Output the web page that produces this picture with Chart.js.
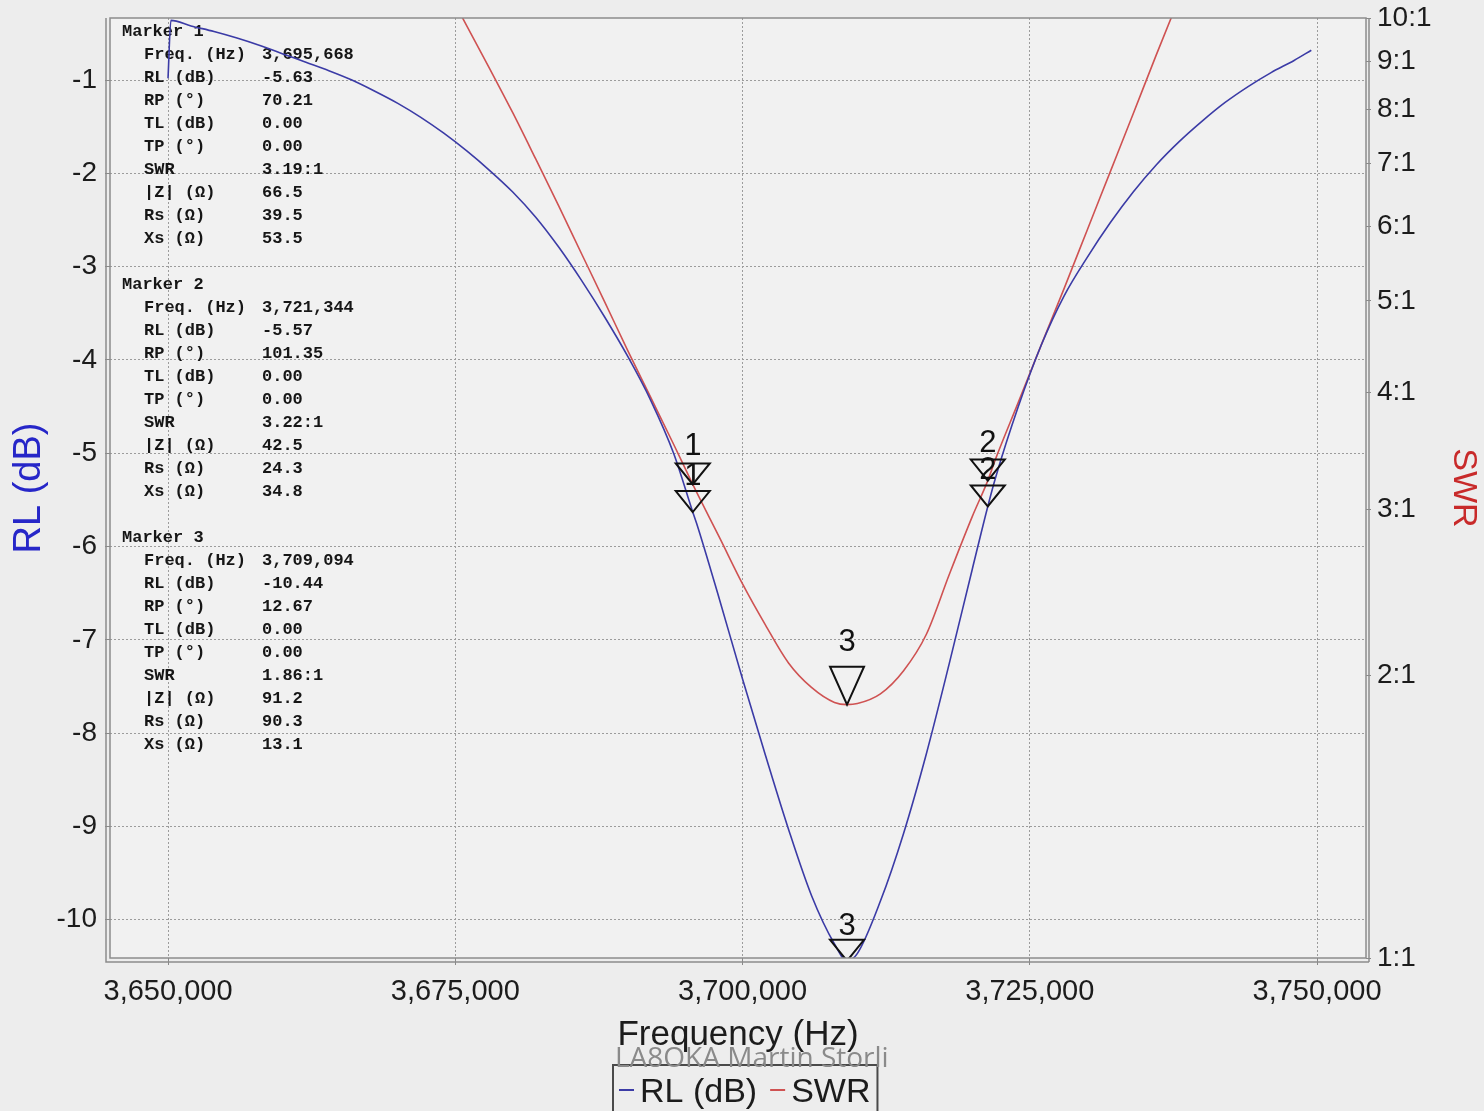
<!DOCTYPE html>
<html>
<head>
<meta charset="utf-8">
<title>RL (dB) / SWR</title>
<script src="https://cdn.jsdelivr.net/npm/chart.js@4.4.1/dist/chart.umd.min.js"></script>
<style>
  html, body { margin: 0; padding: 0; background: #ededed; }
  #wrap { width: 1484px; height: 1111px; position: relative; overflow: hidden; }
  canvas { display: block; }
</style>
</head>
<body>
<div id="wrap"><canvas id="sweep" width="1484" height="1111"></canvas></div>
<script>
// ---- Sweep data -------------------------------------------------------
// Return loss sweep (Hz, dB)
const rlFreqs = [
  3650000, 3650250, 3652000, 3654000, 3656000, 3658000, 3660000, 3662000, 3664000, 3666000,
  3668000, 3670000, 3672000, 3674000, 3676000, 3678000, 3680000, 3682000, 3684000, 3686000,
  3688000, 3690000, 3692000, 3694000, 3696000, 3698000, 3700000, 3702000, 3704000, 3706000,
  3708000, 3710000, 3712000, 3714000, 3716000, 3718000, 3720000, 3722000, 3724000, 3726000,
  3728000, 3730000, 3732000, 3734000, 3736000, 3738000, 3740000, 3742000, 3744000, 3746000,
  3748000, 3749500
];
const rlValues = [
  -0.98, -0.36, -0.42, -0.48, -0.55, -0.63, -0.72, -0.81, -0.90, -1.00,
  -1.12, -1.25, -1.40, -1.57, -1.76, -1.97, -2.20, -2.47, -2.79, -3.15,
  -3.54, -3.96, -4.43, -5.00, -5.75, -6.57, -7.42, -8.24, -9.03, -9.74,
  -10.26, -10.36, -9.80, -9.08, -8.22, -7.25, -6.24, -5.27, -4.50, -3.84,
  -3.31, -2.90, -2.53, -2.20, -1.91, -1.66, -1.44, -1.24, -1.07, -0.92,
  -0.79, -0.68
];

// SWR sweep (Hz, ratio : 1)
const swrFreqs = [
  3674000, 3676000, 3678000, 3680000, 3682000, 3684000, 3686000, 3688000, 3690000, 3692000,
  3694000, 3696000, 3698000, 3700000, 3702000, 3704000, 3706000, 3708000, 3710000, 3712000,
  3714000, 3716000, 3718000, 3720000, 3722000, 3724000, 3726000, 3728000, 3730000, 3732000,
  3734000, 3736000, 3738000
];
const swrValues = [
  10.9, 9.81, 8.83, 7.93, 7.08, 6.31, 5.61, 4.99, 4.43, 3.95,
  3.52, 3.13, 2.80, 2.50, 2.26, 2.06, 1.94, 1.87, 1.865, 1.91,
  2.02, 2.21, 2.56, 2.95, 3.39, 3.90, 4.49, 5.16, 5.95, 6.86,
  7.91, 9.13, 10.5
];

// Markers and their readouts
const markerNames = ['1', '2', '3'];
const markerFreqs = [3695668, 3721344, 3709094];
const markerRL    = [-5.63, -5.57, -10.44];
const markerRP    = [70.21, 101.35, 12.67];
const markerTL    = [0.00, 0.00, 0.00];
const markerTP    = [0.00, 0.00, 0.00];
const markerSWR   = [3.19, 3.22, 1.86];
const markerZ     = [66.5, 42.5, 91.2];
const markerRs    = [39.5, 24.3, 90.3];
const markerXs    = [53.5, 34.8, 13.1];

// Axis ticks
const freqTicks = [3650000, 3675000, 3700000, 3725000, 3750000];
const rlTicks   = [-1, -2, -3, -4, -5, -6, -7, -8, -9, -10];
const swrTicks  = [1, 2, 3, 4, 5, 6, 7, 8, 9, 10];

// ---- Styling ------------------------------------------------------------
const RL_COLOR  = '#3b3ba6';
const SWR_COLOR = '#cf5252';
const TEXT      = '#1c1c1c';
const SANS      = "'Liberation Sans', Arial, sans-serif";
const MONO      = "'Liberation Mono', 'Courier New', monospace";

// triangle geometry for each marker on each trace: [width, height, label gap]
const triRL  = [[34, 21, 6], [34, 21, 6], [34, 21, 5]];
const triSWR = [[34, 21, 8], [34, 21, 8], [34, 38, 16]];

// merge the marker samples into the sweeps so the curves pass through them
function mergeSeries(freqs, values, mFreqs, mValues) {
  const pts = freqs.map((f, i) => ({ x: f, y: values[i] }));
  mFreqs.forEach((f, i) => pts.push({ x: f, y: mValues[i] }));
  return pts.sort((a, b) => a.x - b.x);
}
const rlData  = mergeSeries(rlFreqs, rlValues, markerFreqs, markerRL);
const swrData = mergeSeries(swrFreqs, swrValues, markerFreqs, markerSWR);

const fmtInt = v => Math.round(v).toLocaleString('en-US');

// vertical axes: fixed width, and no extra room reserved for the end labels
const fixVertical = width => s => { s.width = width; s.paddingTop = 0; s.paddingBottom = 0; };

// ---- Plugins --------------------------------------------------------------
const backdrop = {
  id: 'backdrop',
  beforeDraw(chart) {
    const { ctx, chartArea: a } = chart;
    ctx.save();
    ctx.fillStyle = '#ededed';
    ctx.fillRect(0, 0, chart.width, chart.height);
    ctx.fillStyle = '#f1f1f1';
    ctx.fillRect(a.left, a.top, a.right - a.left, a.bottom - a.top);
    ctx.restore();
  }
};

const readout = {
  id: 'readout',
  beforeDatasetsDraw(chart) {
    const { ctx, chartArea: a } = chart;
    const rows = ['Freq. (Hz)', 'RL (dB)', 'RP (°)', 'TL (dB)', 'TP (°)', 'SWR', '|Z| (Ω)', 'Rs (Ω)', 'Xs (Ω)'];
    const lh = 23;
    ctx.save();
    ctx.fillStyle = '#161616';
    ctx.font = 'bold 17px ' + MONO;
    ctx.textBaseline = 'middle';
    ctx.textAlign = 'left';
    let y = a.top + 14;
    markerNames.forEach((name, i) => {
      const vals = [
        fmtInt(markerFreqs[i]),
        markerRL[i].toFixed(2),
        markerRP[i].toFixed(2),
        markerTL[i].toFixed(2),
        markerTP[i].toFixed(2),
        markerSWR[i].toFixed(2) + ':1',
        markerZ[i].toFixed(1),
        markerRs[i].toFixed(1),
        markerXs[i].toFixed(1)
      ];
      ctx.fillText('Marker ' + name, a.left + 12, y);
      y += lh;
      rows.forEach((r, k) => {
        ctx.fillText(r, a.left + 34, y);
        ctx.fillText(vals[k], a.left + 152, y);
        y += lh;
      });
      y += lh;
    });
    ctx.restore();
  }
};

const markers = {
  id: 'markers',
  afterDatasetsDraw(chart) {
    const { ctx, chartArea: a, scales } = chart;
    ctx.save();
    ctx.beginPath();
    ctx.rect(a.left, a.top, a.right - a.left, a.bottom - a.top);
    ctx.clip();
    ctx.strokeStyle = '#111';
    ctx.fillStyle = '#111';
    ctx.lineWidth = 2;
    ctx.font = '31px ' + SANS;
    ctx.textAlign = 'center';
    ctx.textBaseline = 'alphabetic';
    const draw = (px, py, geo, label) => {
      const [w, h, gap] = geo;
      ctx.beginPath();
      ctx.moveTo(px, py);
      ctx.lineTo(px - w / 2, py - h);
      ctx.lineTo(px + w / 2, py - h);
      ctx.closePath();
      ctx.stroke();
      ctx.fillText(label, px, py - h - gap);
    };
    markerNames.forEach((name, i) => {
      const px = scales.x.getPixelForValue(markerFreqs[i]);
      draw(px, scales.y2.getPixelForValue(markerSWR[i]), triSWR[i], name);
      draw(px, scales.y.getPixelForValue(markerRL[i]), triRL[i], name);
    });
    ctx.restore();
  }
};

const frame = {
  id: 'frame',
  afterDraw(chart) {
    const { ctx, chartArea: a } = chart;
    ctx.save();
    ctx.strokeStyle = '#8c8c8c';
    ctx.lineWidth = 1.5;
    ctx.strokeRect(a.left, a.top, a.right - a.left, a.bottom - a.top);
    ctx.beginPath();
    ctx.moveTo(a.left - 4, a.top);
    ctx.lineTo(a.left - 4, a.bottom + 4);
    ctx.lineTo(a.right + 3, a.bottom + 4);
    ctx.moveTo(a.right + 3, a.top);
    ctx.lineTo(a.right + 3, a.bottom + 4);
    ctx.stroke();
    ctx.restore();
  }
};

const footer = {
  id: 'footer',
  afterDraw(chart) {
    const { ctx } = chart;
    ctx.save();
    // legend box
    ctx.font = '34px ' + SANS;
    ctx.textBaseline = 'alphabetic';
    ctx.textAlign = 'left';
    const items = chart.data.datasets.map(d => ({ text: d.label, color: d.borderColor }));
    let x = 619;
    const base = 1102;
    const widths = items.map(it => ctx.measureText(it.text).width);
    const total = widths.reduce((s, w) => s + w + 22, 0) + 12 * (items.length - 1);
    const boxL = 613, boxR = x + total + 6;
    ctx.strokeStyle = '#4a4a4a';
    ctx.lineWidth = 2;
    ctx.strokeRect(boxL, 1065, boxR - boxL, 60);
    items.forEach((it, i) => {
      ctx.strokeStyle = it.color;
      ctx.lineWidth = 2;
      ctx.beginPath();
      ctx.moveTo(x, base - 12);
      ctx.lineTo(x + 15, base - 12);
      ctx.stroke();
      x += 21;
      ctx.fillStyle = TEXT;
      ctx.fillText(it.text, x, base);
      x += widths[i] + 13;
    });
    // author credit
    ctx.font = "28px 'Open Sans', sans-serif";
    ctx.fillStyle = '#8a8a8a';
    ctx.fillText('LA8OKA Martin Storli', 615, 1067);
    ctx.restore();
  }
};

// ---- Chart ----------------------------------------------------------------
const gridColor = '#9c9c9c';

new Chart(document.getElementById('sweep'), {
  type: 'line',
  data: {
    datasets: [
      { label: 'RL (dB)', data: rlData, yAxisID: 'y', borderColor: RL_COLOR, borderWidth: 1.6,
        pointRadius: 0, cubicInterpolationMode: 'monotone', fill: false },
      { label: 'SWR', data: swrData, yAxisID: 'y2', borderColor: SWR_COLOR, borderWidth: 1.6,
        pointRadius: 0, cubicInterpolationMode: 'monotone', fill: false }
    ]
  },
  options: {
    responsive: false,
    animation: false,
    devicePixelRatio: 1,
    layout: { padding: { top: 18, left: 0, right: 0, bottom: 0 } },
    plugins: { legend: { display: false }, tooltip: { enabled: false }, title: { display: false } },
    scales: {
      x: {
        type: 'linear', position: 'bottom', min: 3644950, max: 3754260,
        afterBuildTicks: s => { s.ticks = freqTicks.map(v => ({ value: v })); },
        afterFit: s => { s.height = 153; },
        ticks: { callback: v => fmtInt(v), color: TEXT, font: { family: SANS, size: 29 },
                 padding: 10, maxRotation: 0, autoSkip: false },
        grid: { color: gridColor, lineWidth: 1, drawTicks: true, tickLength: 7, tickColor: '#888' },
        border: { display: false, dash: [2, 2] },
        title: { display: true, text: 'Frequency (Hz)', color: TEXT,
                 font: { family: SANS, size: 35 }, padding: { top: 0, bottom: 55 } }
      },
      y: {
        type: 'linear', position: 'left', min: -10.41, max: -0.335,
        afterBuildTicks: s => { s.ticks = rlTicks.map(v => ({ value: v })); },
        afterFit: fixVertical(110),
        ticks: { callback: v => String(v), color: TEXT, font: { family: SANS, size: 28 }, padding: 8 },
        grid: { color: gridColor, lineWidth: 1, drawTicks: true, tickLength: 5, tickColor: '#888' },
        border: { display: false, dash: [2, 2] },
        title: { display: true, text: 'RL (dB)', color: '#2626c8',
                 font: { family: SANS, size: 38 }, padding: { top: 7, bottom: 0 } }
      },
      y2: {
        type: 'logarithmic', position: 'right', min: 1, max: 10,
        afterBuildTicks: s => { s.ticks = swrTicks.map(v => ({ value: v })); },
        afterFit: fixVertical(118),
        ticks: { callback: v => v + ':1', color: TEXT, font: { family: SANS, size: 28 }, padding: 6 },
        grid: { drawOnChartArea: false, drawTicks: true, tickLength: 5, tickColor: '#888' },
        border: { display: false },
        title: { display: true, text: 'SWR', color: '#c82a2a',
                 font: { family: SANS, size: 34 }, padding: { top: 0, bottom: 0 } }
      }
    }
  },
  plugins: [backdrop, readout, markers, frame, footer]
});
</script>
</body>
</html>
